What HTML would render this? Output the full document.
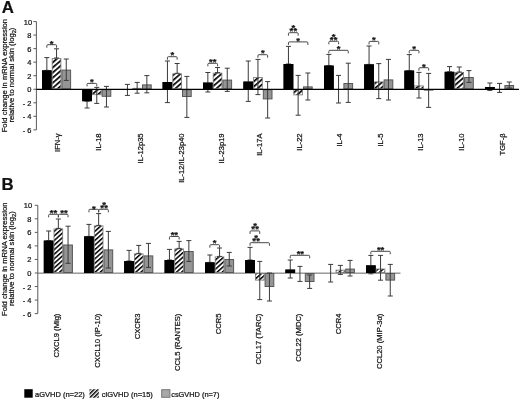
<!DOCTYPE html>
<html><head><meta charset="utf-8"><title>Figure</title>
<style>
html,body{margin:0;padding:0;background:#fff;}
svg{display:block;font-family:"Liberation Sans",sans-serif;fill:#111;}
text{stroke:#111;stroke-width:0.22px;}
#fig{filter:blur(0.45px);}
</style></head><body>
<svg width="520" height="400" viewBox="0 0 520 400">
<rect x="0" y="0" width="520" height="400" fill="#fff"/>
<g id="fig">
<defs><pattern id="hatchA" patternUnits="userSpaceOnUse" width="3.85" height="8" patternTransform="rotate(49)"><rect x="0" y="0" width="3.85" height="8" fill="#fff"/><rect x="0" y="0" width="1.7" height="8" fill="#000"/></pattern><pattern id="hatchB" patternUnits="userSpaceOnUse" width="3.4" height="8" patternTransform="rotate(48)"><rect x="0" y="0" width="3.4" height="8" fill="#fff"/><rect x="0" y="0" width="1.5" height="8" fill="#000"/></pattern><pattern id="hatch2" patternUnits="userSpaceOnUse" width="2.83" height="8" x="1.57" patternTransform="rotate(45)"><rect x="0" y="0" width="2.83" height="8" fill="#fff"/><rect x="0" y="0" width="1.45" height="8" fill="#000"/></pattern></defs>
<text x="1.7" y="13.0" font-size="16.8" font-weight="bold">A</text>
<path d="M36.40 21.60V129.87" stroke="#5a5a5a" stroke-width="1" fill="none"/>
<path d="M33.40 129.87H36.40" stroke="#5a5a5a" stroke-width="1" fill="none"/>
<text x="31.50" y="132.87" font-size="7.5" text-anchor="end">- 6</text>
<path d="M33.40 116.33H36.40" stroke="#5a5a5a" stroke-width="1" fill="none"/>
<text x="31.50" y="119.33" font-size="7.5" text-anchor="end">- 4</text>
<path d="M33.40 102.79H36.40" stroke="#5a5a5a" stroke-width="1" fill="none"/>
<text x="31.50" y="105.79" font-size="7.5" text-anchor="end">- 2</text>
<path d="M33.40 89.25H36.40" stroke="#5a5a5a" stroke-width="1" fill="none"/>
<text x="31.50" y="92.25" font-size="7.5" text-anchor="end">0</text>
<path d="M33.40 75.71H36.40" stroke="#5a5a5a" stroke-width="1" fill="none"/>
<text x="31.50" y="78.71" font-size="7.5" text-anchor="end">2</text>
<path d="M33.40 62.17H36.40" stroke="#5a5a5a" stroke-width="1" fill="none"/>
<text x="31.50" y="65.17" font-size="7.5" text-anchor="end">4</text>
<path d="M33.40 48.63H36.40" stroke="#5a5a5a" stroke-width="1" fill="none"/>
<text x="31.50" y="51.63" font-size="7.5" text-anchor="end">6</text>
<path d="M33.40 35.09H36.40" stroke="#5a5a5a" stroke-width="1" fill="none"/>
<text x="31.50" y="38.09" font-size="7.5" text-anchor="end">8</text>
<path d="M33.40 21.55H36.40" stroke="#5a5a5a" stroke-width="1" fill="none"/>
<text x="32.20" y="24.55" font-size="7.5" text-anchor="end">10</text>
<text transform="translate(6.60 75.60) rotate(-90)" text-anchor="middle" font-size="7.65">Fold change in mRNA expression</text>
<text transform="translate(14.20 75.00) rotate(-90)" text-anchor="middle" font-size="7.65">relative to normal skin (log<tspan font-size="5.6" dy="1.3">2</tspan><tspan dy="-1.3">)</tspan></text>
<rect x="42.00" y="70.40" width="9.70" height="18.85" fill="#000"/>
<path d="M46.85 57.60V70.40M44.35 57.60h5.0M44.35 70.40h5.0" stroke="#3a3a3a" stroke-width="1.0" fill="none"/>
<rect x="42.00" y="70.40" width="9.70" height="18.85" fill="#000"/>
<rect x="52.20" y="58.50" width="8.70" height="30.25" fill="url(#hatchA)" stroke="#777" stroke-width="0.8"/>
<path d="M56.55 48.80V58.00M54.05 48.80h5.0M54.05 58.00h5.0" stroke="#3a3a3a" stroke-width="1.0" fill="none"/>
<rect x="61.90" y="70.10" width="8.70" height="18.65" fill="#959595" stroke="#585858" stroke-width="1"/>
<path d="M66.25 59.00V80.40M63.75 59.00h5.0M63.75 80.40h5.0" stroke="#3a3a3a" stroke-width="1.0" fill="none"/>
<rect x="82.20" y="89.25" width="9.70" height="11.95" fill="#000"/>
<path d="M87.05 101.20V108.00M84.55 101.20h5.0M84.55 108.00h5.0" stroke="#3a3a3a" stroke-width="1.0" fill="none"/>
<rect x="82.20" y="89.25" width="9.70" height="11.95" fill="#000"/>
<rect x="92.40" y="89.75" width="8.70" height="4.95" fill="url(#hatchA)" stroke="#777" stroke-width="0.8"/>
<path d="M96.75 87.40V103.40M94.25 87.40h5.0M94.25 103.40h5.0" stroke="#3a3a3a" stroke-width="1.0" fill="none"/>
<rect x="102.10" y="89.75" width="8.70" height="6.55" fill="#959595" stroke="#585858" stroke-width="1"/>
<path d="M106.45 86.40V107.00M103.95 86.40h5.0M103.95 107.00h5.0" stroke="#3a3a3a" stroke-width="1.0" fill="none"/>
<path d="M127.45 84.40V95.40M124.95 84.40h5.0M124.95 95.40h5.0" stroke="#3a3a3a" stroke-width="1.0" fill="none"/>
<rect x="132.80" y="88.30" width="8.70" height="0.45" fill="url(#hatchA)" stroke="#777" stroke-width="0.8"/>
<path d="M137.15 82.40V93.20M134.65 82.40h5.0M134.65 93.20h5.0" stroke="#3a3a3a" stroke-width="1.0" fill="none"/>
<rect x="142.50" y="84.90" width="8.70" height="3.85" fill="#959595" stroke="#585858" stroke-width="1"/>
<path d="M146.85 75.60V92.80M144.35 75.60h5.0M144.35 92.80h5.0" stroke="#3a3a3a" stroke-width="1.0" fill="none"/>
<rect x="162.60" y="82.00" width="9.70" height="7.25" fill="#000"/>
<path d="M167.45 61.00V102.60M164.95 61.00h5.0M164.95 102.60h5.0" stroke="#3a3a3a" stroke-width="1.0" fill="none"/>
<rect x="162.60" y="82.00" width="9.70" height="7.25" fill="#000"/>
<rect x="172.80" y="73.80" width="8.70" height="14.95" fill="url(#hatchA)" stroke="#777" stroke-width="0.8"/>
<path d="M177.15 63.50V73.30M174.65 63.50h5.0M174.65 73.30h5.0" stroke="#3a3a3a" stroke-width="1.0" fill="none"/>
<rect x="182.50" y="89.75" width="8.70" height="6.75" fill="#959595" stroke="#585858" stroke-width="1"/>
<path d="M186.85 76.40V117.40M184.35 76.40h5.0M184.35 117.40h5.0" stroke="#3a3a3a" stroke-width="1.0" fill="none"/>
<rect x="203.00" y="82.60" width="9.70" height="6.65" fill="#000"/>
<path d="M207.85 72.50V92.00M205.35 72.50h5.0M205.35 92.00h5.0" stroke="#3a3a3a" stroke-width="1.0" fill="none"/>
<rect x="203.00" y="82.60" width="9.70" height="6.65" fill="#000"/>
<rect x="213.20" y="73.10" width="8.70" height="15.65" fill="url(#hatchA)" stroke="#777" stroke-width="0.8"/>
<path d="M217.55 67.50V72.60M215.05 67.50h5.0M215.05 72.60h5.0" stroke="#3a3a3a" stroke-width="1.0" fill="none"/>
<rect x="222.90" y="80.10" width="8.70" height="8.65" fill="#959595" stroke="#585858" stroke-width="1"/>
<path d="M227.25 68.20V91.40M224.75 68.20h5.0M224.75 91.40h5.0" stroke="#3a3a3a" stroke-width="1.0" fill="none"/>
<rect x="243.40" y="81.60" width="9.70" height="7.65" fill="#000"/>
<path d="M248.25 61.00V101.40M245.75 61.00h5.0M245.75 101.40h5.0" stroke="#3a3a3a" stroke-width="1.0" fill="none"/>
<rect x="243.40" y="81.60" width="9.70" height="7.65" fill="#000"/>
<rect x="253.60" y="77.50" width="8.70" height="11.25" fill="url(#hatchA)" stroke="#777" stroke-width="0.8"/>
<path d="M257.95 59.40V94.60M255.45 59.40h5.0M255.45 94.60h5.0" stroke="#3a3a3a" stroke-width="1.0" fill="none"/>
<rect x="263.30" y="89.75" width="8.70" height="9.15" fill="#959595" stroke="#585858" stroke-width="1"/>
<path d="M267.65 81.60V118.00M265.15 81.60h5.0M265.15 118.00h5.0" stroke="#3a3a3a" stroke-width="1.0" fill="none"/>
<rect x="283.60" y="64.00" width="9.70" height="25.25" fill="#000"/>
<path d="M288.45 46.40V64.00M285.95 46.40h5.0M285.95 64.00h5.0" stroke="#3a3a3a" stroke-width="1.0" fill="none"/>
<rect x="283.60" y="64.00" width="9.70" height="25.25" fill="#000"/>
<rect x="293.80" y="89.75" width="8.70" height="5.15" fill="url(#hatchA)" stroke="#777" stroke-width="0.8"/>
<path d="M298.15 75.40V115.20M295.65 75.40h5.0M295.65 115.20h5.0" stroke="#3a3a3a" stroke-width="1.0" fill="none"/>
<rect x="303.50" y="86.90" width="8.70" height="1.85" fill="#959595" stroke="#585858" stroke-width="1"/>
<path d="M307.85 73.00V100.00M305.35 73.00h5.0M305.35 100.00h5.0" stroke="#3a3a3a" stroke-width="1.0" fill="none"/>
<rect x="324.00" y="65.60" width="9.70" height="23.65" fill="#000"/>
<path d="M328.85 54.40V65.60M326.35 54.40h5.0M326.35 65.60h5.0" stroke="#3a3a3a" stroke-width="1.0" fill="none"/>
<rect x="324.00" y="65.60" width="9.70" height="23.65" fill="#000"/>
<path d="M338.55 75.40V103.00M336.05 75.40h5.0M336.05 103.00h5.0" stroke="#3a3a3a" stroke-width="1.0" fill="none"/>
<rect x="343.90" y="83.50" width="8.70" height="5.25" fill="#959595" stroke="#585858" stroke-width="1"/>
<path d="M348.25 63.20V102.40M345.75 63.20h5.0M345.75 102.40h5.0" stroke="#3a3a3a" stroke-width="1.0" fill="none"/>
<rect x="364.20" y="64.40" width="9.70" height="24.85" fill="#000"/>
<path d="M369.05 46.00V64.40M366.55 46.00h5.0M366.55 64.40h5.0" stroke="#3a3a3a" stroke-width="1.0" fill="none"/>
<rect x="364.20" y="64.40" width="9.70" height="24.85" fill="#000"/>
<rect x="374.40" y="81.90" width="8.70" height="6.85" fill="url(#hatchA)" stroke="#777" stroke-width="0.8"/>
<path d="M378.75 63.60V98.60M376.25 63.60h5.0M376.25 98.60h5.0" stroke="#3a3a3a" stroke-width="1.0" fill="none"/>
<rect x="384.10" y="79.90" width="8.70" height="8.85" fill="#959595" stroke="#585858" stroke-width="1"/>
<path d="M388.45 59.40V100.00M385.95 59.40h5.0M385.95 100.00h5.0" stroke="#3a3a3a" stroke-width="1.0" fill="none"/>
<rect x="404.40" y="70.60" width="9.70" height="18.65" fill="#000"/>
<path d="M409.25 54.60V70.60M406.75 54.60h5.0M406.75 70.60h5.0" stroke="#3a3a3a" stroke-width="1.0" fill="none"/>
<rect x="404.40" y="70.60" width="9.70" height="18.65" fill="#000"/>
<rect x="414.60" y="85.90" width="8.70" height="2.85" fill="url(#hatchA)" stroke="#777" stroke-width="0.8"/>
<path d="M418.95 72.40V98.00M416.45 72.40h5.0M416.45 98.00h5.0" stroke="#3a3a3a" stroke-width="1.0" fill="none"/>
<rect x="424.30" y="89.75" width="8.70" height="0.35" fill="#959595" stroke="#585858" stroke-width="1"/>
<path d="M428.65 73.40V107.40M426.15 73.40h5.0M426.15 107.40h5.0" stroke="#3a3a3a" stroke-width="1.0" fill="none"/>
<rect x="444.70" y="71.80" width="9.70" height="17.45" fill="#000"/>
<path d="M449.55 66.60V71.80M447.05 66.60h5.0M447.05 71.80h5.0" stroke="#3a3a3a" stroke-width="1.0" fill="none"/>
<rect x="444.70" y="71.80" width="9.70" height="17.45" fill="#000"/>
<rect x="454.90" y="72.50" width="8.70" height="16.25" fill="url(#hatchA)" stroke="#777" stroke-width="0.8"/>
<path d="M459.25 67.00V72.00M456.75 67.00h5.0M456.75 72.00h5.0" stroke="#3a3a3a" stroke-width="1.0" fill="none"/>
<rect x="464.60" y="77.50" width="8.70" height="11.25" fill="#959595" stroke="#585858" stroke-width="1"/>
<path d="M468.95 70.60V82.40M466.45 70.60h5.0M466.45 82.40h5.0" stroke="#3a3a3a" stroke-width="1.0" fill="none"/>
<rect x="485.00" y="87.00" width="9.70" height="2.25" fill="#000"/>
<path d="M489.85 83.00V90.40M487.35 83.00h5.0M487.35 90.40h5.0" stroke="#3a3a3a" stroke-width="1.0" fill="none"/>
<rect x="485.00" y="87.00" width="9.70" height="2.25" fill="#000"/>
<path d="M499.55 83.40V92.40M497.05 83.40h5.0M497.05 92.40h5.0" stroke="#3a3a3a" stroke-width="1.0" fill="none"/>
<rect x="504.90" y="85.50" width="8.70" height="3.25" fill="#959595" stroke="#585858" stroke-width="1"/>
<path d="M509.25 82.00V88.00M506.75 82.00h5.0M506.75 88.00h5.0" stroke="#3a3a3a" stroke-width="1.0" fill="none"/>
<path d="M36.4 89.35H519" stroke="#000" stroke-width="1.25" fill="none"/>
<path d="M46.85 47.70V45.70Q46.85 44.70 47.85 44.70H55.55Q56.55 44.70 56.55 45.70V47.70" stroke="#333" stroke-width="0.9" fill="none"/>
<text x="51.70" y="46.50" font-size="9.5" font-weight="bold" text-anchor="middle" stroke="#111" stroke-width="0.45">*</text>
<path d="M87.05 86.40V84.40Q87.05 83.40 88.05 83.40H95.75Q96.75 83.40 96.75 84.40V86.40" stroke="#333" stroke-width="0.9" fill="none"/>
<text x="91.90" y="85.00" font-size="9.5" font-weight="bold" text-anchor="middle" stroke="#111" stroke-width="0.45">*</text>
<path d="M167.45 59.70V57.70Q167.45 56.70 168.45 56.70H176.15Q177.15 56.70 177.15 57.70V59.70" stroke="#333" stroke-width="0.9" fill="none"/>
<text x="172.30" y="58.30" font-size="9.5" font-weight="bold" text-anchor="middle" stroke="#111" stroke-width="0.45">*</text>
<path d="M207.85 66.30V64.30Q207.85 63.30 208.85 63.30H216.55Q217.55 63.30 217.55 64.30V66.30" stroke="#333" stroke-width="0.9" fill="none"/>
<text x="210.90" y="64.90" font-size="9.5" font-weight="bold" text-anchor="middle" stroke="#111" stroke-width="0.45">*</text>
<text x="214.50" y="64.90" font-size="9.5" font-weight="bold" text-anchor="middle" stroke="#111" stroke-width="0.45">*</text>
<path d="M257.95 57.70V55.70Q257.95 54.70 258.95 54.70H266.65Q267.65 54.70 267.65 55.70V57.70" stroke="#333" stroke-width="0.9" fill="none"/>
<text x="262.80" y="56.30" font-size="9.5" font-weight="bold" text-anchor="middle" stroke="#111" stroke-width="0.45">*</text>
<path d="M288.45 44.90V42.90Q288.45 41.90 289.45 41.90H306.85Q307.85 41.90 307.85 42.90V44.90" stroke="#333" stroke-width="0.9" fill="none"/>
<text x="298.15" y="43.90" font-size="9.5" font-weight="bold" text-anchor="middle" stroke="#111" stroke-width="0.45">*</text>
<path d="M288.45 35.70V33.70Q288.45 32.70 289.45 32.70H297.15Q298.15 32.70 298.15 33.70V35.70" stroke="#333" stroke-width="0.9" fill="none"/>
<text x="291.30" y="34.10" font-size="9.5" font-weight="bold" text-anchor="middle" stroke="#111" stroke-width="0.45">*</text>
<text x="295.30" y="34.10" font-size="9.5" font-weight="bold" text-anchor="middle" stroke="#111" stroke-width="0.45">*</text>
<text x="293.30" y="31.00" font-size="9.5" font-weight="bold" text-anchor="middle" stroke="#111" stroke-width="0.45">*</text>
<path d="M328.85 53.30V51.30Q328.85 50.30 329.85 50.30H347.25Q348.25 50.30 348.25 51.30V53.30" stroke="#333" stroke-width="0.9" fill="none"/>
<text x="338.55" y="52.10" font-size="9.5" font-weight="bold" text-anchor="middle" stroke="#111" stroke-width="0.45">*</text>
<path d="M328.85 44.30V42.30Q328.85 41.30 329.85 41.30H337.55Q338.55 41.30 338.55 42.30V44.30" stroke="#333" stroke-width="0.9" fill="none"/>
<text x="331.70" y="43.10" font-size="9.5" font-weight="bold" text-anchor="middle" stroke="#111" stroke-width="0.45">*</text>
<text x="335.70" y="43.10" font-size="9.5" font-weight="bold" text-anchor="middle" stroke="#111" stroke-width="0.45">*</text>
<text x="333.70" y="40.00" font-size="9.5" font-weight="bold" text-anchor="middle" stroke="#111" stroke-width="0.45">*</text>
<path d="M369.05 44.40V42.40Q369.05 41.40 370.05 41.40H377.75Q378.75 41.40 378.75 42.40V44.40" stroke="#333" stroke-width="0.9" fill="none"/>
<text x="373.90" y="43.40" font-size="9.5" font-weight="bold" text-anchor="middle" stroke="#111" stroke-width="0.45">*</text>
<path d="M409.25 53.30V51.30Q409.25 50.30 410.25 50.30H417.95Q418.95 50.30 418.95 51.30V53.30" stroke="#333" stroke-width="0.9" fill="none"/>
<text x="414.10" y="52.30" font-size="9.5" font-weight="bold" text-anchor="middle" stroke="#111" stroke-width="0.45">*</text>
<path d="M418.95 70.70V68.70Q418.95 67.70 419.95 67.70H427.65Q428.65 67.70 428.65 68.70V70.70" stroke="#333" stroke-width="0.9" fill="none"/>
<text x="423.80" y="69.70" font-size="9.5" font-weight="bold" text-anchor="middle" stroke="#111" stroke-width="0.45">*</text>
<text transform="translate(59.65 133.40) rotate(-90)" text-anchor="end" font-size="7.6">IFN-γ</text>
<text transform="translate(101.15 133.40) rotate(-90)" text-anchor="end" font-size="7.6">IL-18</text>
<text transform="translate(142.55 133.40) rotate(-90)" text-anchor="end" font-size="7.6">IL-12p35</text>
<text transform="translate(183.55 133.40) rotate(-90)" text-anchor="end" font-size="7.6">IL-12/IL-23p40</text>
<text transform="translate(223.65 133.40) rotate(-90)" text-anchor="end" font-size="7.6">IL-23p19</text>
<text transform="translate(262.35 133.40) rotate(-90)" text-anchor="end" font-size="7.6">IL-17A</text>
<text transform="translate(302.05 133.40) rotate(-90)" text-anchor="end" font-size="7.6">IL-22</text>
<text transform="translate(342.45 133.40) rotate(-90)" text-anchor="end" font-size="7.6">IL-4</text>
<text transform="translate(383.15 133.40) rotate(-90)" text-anchor="end" font-size="7.6">IL-5</text>
<text transform="translate(423.35 133.40) rotate(-90)" text-anchor="end" font-size="7.6">IL-13</text>
<text transform="translate(463.65 133.40) rotate(-90)" text-anchor="end" font-size="7.6">IL-10</text>
<text transform="translate(504.75 133.40) rotate(-90)" text-anchor="end" font-size="7.6">TGF-β</text>
<text x="1.5" y="189.5" font-size="16.8" font-weight="bold">B</text>
<path d="M37.80 205.30V313.62" stroke="#5a5a5a" stroke-width="1" fill="none"/>
<path d="M34.80 313.62H37.80" stroke="#5a5a5a" stroke-width="1" fill="none"/>
<text x="31.50" y="316.62" font-size="7.5" text-anchor="end">- 6</text>
<path d="M34.80 300.08H37.80" stroke="#5a5a5a" stroke-width="1" fill="none"/>
<text x="31.50" y="303.08" font-size="7.5" text-anchor="end">- 4</text>
<path d="M34.80 286.54H37.80" stroke="#5a5a5a" stroke-width="1" fill="none"/>
<text x="31.50" y="289.54" font-size="7.5" text-anchor="end">- 2</text>
<path d="M34.80 273.00H37.80" stroke="#5a5a5a" stroke-width="1" fill="none"/>
<text x="31.50" y="276.00" font-size="7.5" text-anchor="end">0</text>
<path d="M34.80 259.46H37.80" stroke="#5a5a5a" stroke-width="1" fill="none"/>
<text x="31.50" y="262.46" font-size="7.5" text-anchor="end">2</text>
<path d="M34.80 245.92H37.80" stroke="#5a5a5a" stroke-width="1" fill="none"/>
<text x="31.50" y="248.92" font-size="7.5" text-anchor="end">4</text>
<path d="M34.80 232.38H37.80" stroke="#5a5a5a" stroke-width="1" fill="none"/>
<text x="31.50" y="235.38" font-size="7.5" text-anchor="end">6</text>
<path d="M34.80 218.84H37.80" stroke="#5a5a5a" stroke-width="1" fill="none"/>
<text x="31.50" y="221.84" font-size="7.5" text-anchor="end">8</text>
<path d="M34.80 205.30H37.80" stroke="#5a5a5a" stroke-width="1" fill="none"/>
<text x="32.20" y="208.30" font-size="7.5" text-anchor="end">10</text>
<text transform="translate(6.60 259.30) rotate(-90)" text-anchor="middle" font-size="7.65">Fold change in mRNA expression</text>
<text transform="translate(14.20 258.70) rotate(-90)" text-anchor="middle" font-size="7.65">relative to normal skin (log<tspan font-size="5.6" dy="1.3">2</tspan><tspan dy="-1.3">)</tspan></text>
<path d="M37.8 273.15H400.5" stroke="#666" stroke-width="1" fill="none"/>
<rect x="43.80" y="240.60" width="9.70" height="32.40" fill="#000"/>
<path d="M48.65 231.00V240.60M46.15 231.00h5.0M46.15 240.60h5.0" stroke="#3a3a3a" stroke-width="1.0" fill="none"/>
<rect x="43.80" y="240.60" width="9.70" height="32.40" fill="#000"/>
<rect x="54.00" y="228.90" width="8.70" height="43.60" fill="url(#hatchB)" stroke="#777" stroke-width="0.8"/>
<path d="M58.35 219.00V228.40M55.85 219.00h5.0M55.85 228.40h5.0" stroke="#3a3a3a" stroke-width="1.0" fill="none"/>
<rect x="63.70" y="245.00" width="8.70" height="27.50" fill="#959595" stroke="#585858" stroke-width="1"/>
<path d="M68.05 226.20V263.30M65.55 226.20h5.0M65.55 263.30h5.0" stroke="#3a3a3a" stroke-width="1.0" fill="none"/>
<rect x="84.10" y="236.40" width="9.70" height="36.60" fill="#000"/>
<path d="M88.95 224.40V236.40M86.45 224.40h5.0M86.45 236.40h5.0" stroke="#3a3a3a" stroke-width="1.0" fill="none"/>
<rect x="84.10" y="236.40" width="9.70" height="36.60" fill="#000"/>
<rect x="94.30" y="225.90" width="8.70" height="46.60" fill="url(#hatchB)" stroke="#777" stroke-width="0.8"/>
<path d="M98.65 213.60V225.40M96.15 213.60h5.0M96.15 225.40h5.0" stroke="#3a3a3a" stroke-width="1.0" fill="none"/>
<rect x="104.00" y="249.90" width="8.70" height="22.60" fill="#959595" stroke="#585858" stroke-width="1"/>
<path d="M108.35 231.40V268.00M105.85 231.40h5.0M105.85 268.00h5.0" stroke="#3a3a3a" stroke-width="1.0" fill="none"/>
<rect x="124.20" y="261.00" width="9.70" height="12.00" fill="#000"/>
<path d="M129.05 250.40V261.00M126.55 250.40h5.0M126.55 261.00h5.0" stroke="#3a3a3a" stroke-width="1.0" fill="none"/>
<rect x="124.20" y="261.00" width="9.70" height="12.00" fill="#000"/>
<rect x="134.40" y="253.90" width="8.70" height="18.60" fill="url(#hatchB)" stroke="#777" stroke-width="0.8"/>
<path d="M138.75 245.40V253.40M136.25 245.40h5.0M136.25 253.40h5.0" stroke="#3a3a3a" stroke-width="1.0" fill="none"/>
<rect x="144.10" y="255.90" width="8.70" height="16.60" fill="#959595" stroke="#585858" stroke-width="1"/>
<path d="M148.45 243.40V267.40M145.95 243.40h5.0M145.95 267.40h5.0" stroke="#3a3a3a" stroke-width="1.0" fill="none"/>
<rect x="164.60" y="260.00" width="9.70" height="13.00" fill="#000"/>
<path d="M169.45 249.40V260.00M166.95 249.40h5.0M166.95 260.00h5.0" stroke="#3a3a3a" stroke-width="1.0" fill="none"/>
<rect x="164.60" y="260.00" width="9.70" height="13.00" fill="#000"/>
<rect x="174.80" y="248.90" width="8.70" height="23.60" fill="url(#hatchB)" stroke="#777" stroke-width="0.8"/>
<path d="M179.15 241.40V248.40M176.65 241.40h5.0M176.65 248.40h5.0" stroke="#3a3a3a" stroke-width="1.0" fill="none"/>
<rect x="184.50" y="251.50" width="8.70" height="21.00" fill="#959595" stroke="#585858" stroke-width="1"/>
<path d="M188.85 240.60V261.40M186.35 240.60h5.0M186.35 261.40h5.0" stroke="#3a3a3a" stroke-width="1.0" fill="none"/>
<rect x="205.00" y="262.40" width="9.70" height="10.60" fill="#000"/>
<path d="M209.85 255.00V262.40M207.35 255.00h5.0M207.35 262.40h5.0" stroke="#3a3a3a" stroke-width="1.0" fill="none"/>
<rect x="205.00" y="262.40" width="9.70" height="10.60" fill="#000"/>
<rect x="215.20" y="256.90" width="8.70" height="15.60" fill="url(#hatchB)" stroke="#777" stroke-width="0.8"/>
<path d="M219.55 248.00V256.40M217.05 248.00h5.0M217.05 256.40h5.0" stroke="#3a3a3a" stroke-width="1.0" fill="none"/>
<rect x="224.90" y="259.50" width="8.70" height="13.00" fill="#959595" stroke="#585858" stroke-width="1"/>
<path d="M229.25 252.40V266.00M226.75 252.40h5.0M226.75 266.00h5.0" stroke="#3a3a3a" stroke-width="1.0" fill="none"/>
<rect x="245.20" y="260.00" width="9.70" height="13.00" fill="#000"/>
<path d="M250.05 247.40V260.00M247.55 247.40h5.0M247.55 260.00h5.0" stroke="#3a3a3a" stroke-width="1.0" fill="none"/>
<rect x="245.20" y="260.00" width="9.70" height="13.00" fill="#000"/>
<rect x="255.40" y="273.50" width="8.70" height="6.60" fill="url(#hatchB)" stroke="#777" stroke-width="0.8"/>
<path d="M259.75 261.40V299.60M257.25 261.40h5.0M257.25 299.60h5.0" stroke="#3a3a3a" stroke-width="1.0" fill="none"/>
<rect x="265.10" y="273.50" width="8.70" height="13.00" fill="#959595" stroke="#585858" stroke-width="1"/>
<path d="M269.45 273.00V301.00M266.95 273.00h5.0M266.95 301.00h5.0" stroke="#3a3a3a" stroke-width="1.0" fill="none"/>
<rect x="285.40" y="269.60" width="9.70" height="3.40" fill="#000"/>
<path d="M290.25 260.00V278.00M287.75 260.00h5.0M287.75 278.00h5.0" stroke="#3a3a3a" stroke-width="1.0" fill="none"/>
<rect x="285.40" y="269.60" width="9.70" height="3.40" fill="#000"/>
<path d="M299.95 266.40V281.40M297.45 266.40h5.0M297.45 281.40h5.0" stroke="#3a3a3a" stroke-width="1.0" fill="none"/>
<rect x="305.30" y="273.50" width="8.70" height="8.00" fill="#959595" stroke="#585858" stroke-width="1"/>
<path d="M309.65 275.00V288.40M307.15 275.00h5.0M307.15 288.40h5.0" stroke="#3a3a3a" stroke-width="1.0" fill="none"/>
<path d="M330.65 264.40V282.00M328.15 264.40h5.0M328.15 282.00h5.0" stroke="#3a3a3a" stroke-width="1.0" fill="none"/>
<rect x="336.00" y="270.10" width="8.70" height="2.40" fill="url(#hatchB)" stroke="#777" stroke-width="0.8"/>
<path d="M340.35 265.40V274.40M337.85 265.40h5.0M337.85 274.40h5.0" stroke="#3a3a3a" stroke-width="1.0" fill="none"/>
<rect x="345.70" y="269.10" width="8.70" height="3.40" fill="#959595" stroke="#585858" stroke-width="1"/>
<path d="M350.05 260.40V276.00M347.55 260.40h5.0M347.55 276.00h5.0" stroke="#3a3a3a" stroke-width="1.0" fill="none"/>
<rect x="366.00" y="265.40" width="9.70" height="7.60" fill="#000"/>
<path d="M370.85 255.40V273.80M368.35 255.40h5.0M368.35 273.80h5.0" stroke="#3a3a3a" stroke-width="1.0" fill="none"/>
<rect x="366.00" y="265.40" width="9.70" height="7.60" fill="#000"/>
<rect x="376.20" y="269.00" width="8.70" height="3.50" fill="url(#hatchB)" stroke="#777" stroke-width="0.8"/>
<path d="M380.55 255.40V280.20M378.05 255.40h5.0M378.05 280.20h5.0" stroke="#3a3a3a" stroke-width="1.0" fill="none"/>
<rect x="385.90" y="273.50" width="8.70" height="6.60" fill="#959595" stroke="#585858" stroke-width="1"/>
<path d="M390.25 264.40V296.00M387.75 264.40h5.0M387.75 296.00h5.0" stroke="#3a3a3a" stroke-width="1.0" fill="none"/>
<path d="M48.65 217.30V215.30Q48.65 214.30 49.65 214.30H57.35Q58.35 214.30 58.35 215.30V217.30" stroke="#333" stroke-width="0.9" fill="none"/>
<text x="51.70" y="215.60" font-size="9.5" font-weight="bold" text-anchor="middle" stroke="#111" stroke-width="0.45">*</text>
<text x="55.30" y="215.60" font-size="9.5" font-weight="bold" text-anchor="middle" stroke="#111" stroke-width="0.45">*</text>
<path d="M58.35 217.30V215.30Q58.35 214.30 59.35 214.30H67.05Q68.05 214.30 68.05 215.30V217.30" stroke="#333" stroke-width="0.9" fill="none"/>
<text x="62.20" y="215.60" font-size="9.5" font-weight="bold" text-anchor="middle" stroke="#111" stroke-width="0.45">*</text>
<text x="65.80" y="215.60" font-size="9.5" font-weight="bold" text-anchor="middle" stroke="#111" stroke-width="0.45">*</text>
<path d="M88.95 212.30V210.30Q88.95 209.30 89.95 209.30H97.65Q98.65 209.30 98.65 210.30V212.30" stroke="#333" stroke-width="0.9" fill="none"/>
<text x="93.80" y="211.50" font-size="9.5" font-weight="bold" text-anchor="middle" stroke="#111" stroke-width="0.45">*</text>
<path d="M98.65 212.30V210.30Q98.65 209.30 99.65 209.30H107.35Q108.35 209.30 108.35 210.30V212.30" stroke="#333" stroke-width="0.9" fill="none"/>
<text x="102.10" y="211.10" font-size="9.5" font-weight="bold" text-anchor="middle" stroke="#111" stroke-width="0.45">*</text>
<text x="106.10" y="211.10" font-size="9.5" font-weight="bold" text-anchor="middle" stroke="#111" stroke-width="0.45">*</text>
<text x="104.10" y="208.00" font-size="9.5" font-weight="bold" text-anchor="middle" stroke="#111" stroke-width="0.45">*</text>
<path d="M169.45 239.50V237.50Q169.45 236.50 170.45 236.50H178.15Q179.15 236.50 179.15 237.50V239.50" stroke="#333" stroke-width="0.9" fill="none"/>
<text x="172.50" y="237.50" font-size="9.5" font-weight="bold" text-anchor="middle" stroke="#111" stroke-width="0.45">*</text>
<text x="176.10" y="237.50" font-size="9.5" font-weight="bold" text-anchor="middle" stroke="#111" stroke-width="0.45">*</text>
<path d="M209.85 247.70V245.70Q209.85 244.70 210.85 244.70H218.55Q219.55 244.70 219.55 245.70V247.70" stroke="#333" stroke-width="0.9" fill="none"/>
<text x="214.70" y="245.50" font-size="9.5" font-weight="bold" text-anchor="middle" stroke="#111" stroke-width="0.45">*</text>
<path d="M250.05 245.70V243.70Q250.05 242.70 251.05 242.70H268.45Q269.45 242.70 269.45 243.70V245.70" stroke="#333" stroke-width="0.9" fill="none"/>
<text x="254.10" y="244.10" font-size="9.5" font-weight="bold" text-anchor="middle" stroke="#111" stroke-width="0.45">*</text>
<text x="258.10" y="244.10" font-size="9.5" font-weight="bold" text-anchor="middle" stroke="#111" stroke-width="0.45">*</text>
<text x="256.10" y="241.00" font-size="9.5" font-weight="bold" text-anchor="middle" stroke="#111" stroke-width="0.45">*</text>
<path d="M250.05 233.90V231.90Q250.05 230.90 251.05 230.90H258.75Q259.75 230.90 259.75 231.90V233.90" stroke="#333" stroke-width="0.9" fill="none"/>
<text x="253.20" y="231.80" font-size="9.5" font-weight="bold" text-anchor="middle" stroke="#111" stroke-width="0.45">*</text>
<text x="257.20" y="231.80" font-size="9.5" font-weight="bold" text-anchor="middle" stroke="#111" stroke-width="0.45">*</text>
<text x="255.20" y="228.70" font-size="9.5" font-weight="bold" text-anchor="middle" stroke="#111" stroke-width="0.45">*</text>
<path d="M290.25 258.30V256.30Q290.25 255.30 291.25 255.30H308.65Q309.65 255.30 309.65 256.30V258.30" stroke="#333" stroke-width="0.9" fill="none"/>
<text x="298.55" y="256.70" font-size="9.5" font-weight="bold" text-anchor="middle" stroke="#111" stroke-width="0.45">*</text>
<text x="302.15" y="256.70" font-size="9.5" font-weight="bold" text-anchor="middle" stroke="#111" stroke-width="0.45">*</text>
<path d="M370.85 254.30V252.30Q370.85 251.30 371.85 251.30H389.25Q390.25 251.30 390.25 252.30V254.30" stroke="#333" stroke-width="0.9" fill="none"/>
<text x="378.75" y="253.10" font-size="9.5" font-weight="bold" text-anchor="middle" stroke="#111" stroke-width="0.45">*</text>
<text x="382.35" y="253.10" font-size="9.5" font-weight="bold" text-anchor="middle" stroke="#111" stroke-width="0.45">*</text>
<text transform="translate(59.35 313.60) rotate(-90)" text-anchor="end" font-size="7.6">CXCL9 (Mig)</text>
<text transform="translate(99.65 313.60) rotate(-90)" text-anchor="end" font-size="7.6">CXCL10 (IP-10)</text>
<text transform="translate(139.75 313.60) rotate(-90)" text-anchor="end" font-size="7.6">CXCR3</text>
<text transform="translate(180.15 313.60) rotate(-90)" text-anchor="end" font-size="7.6">CCL5 (RANTES)</text>
<text transform="translate(220.55 313.60) rotate(-90)" text-anchor="end" font-size="7.6">CCR5</text>
<text transform="translate(260.75 313.60) rotate(-90)" text-anchor="end" font-size="7.6">CCL17 (TARC)</text>
<text transform="translate(300.95 313.60) rotate(-90)" text-anchor="end" font-size="7.6">CCL22 (MDC)</text>
<text transform="translate(341.35 313.60) rotate(-90)" text-anchor="end" font-size="7.6">CCR4</text>
<text transform="translate(381.55 313.60) rotate(-90)" text-anchor="end" font-size="7.6">CCL20 (MIP-3α)</text>
<rect x="24.3" y="389.2" width="8.4" height="8.5" fill="#000"/>
<text x="35.0" y="397.0" font-size="7.5">aGVHD (n=22)</text>
<rect x="89.5" y="389.2" width="9.3" height="8.6" fill="url(#hatch2)"/>
<text x="101.8" y="397.0" font-size="7.5">clGVHD (n=15)</text>
<rect x="161.7" y="389.7" width="8.2" height="7.6" fill="#a8a8a8" stroke="#777" stroke-width="1"/>
<text x="171.2" y="397.0" font-size="7.4">csGVHD (n=7)</text>
</g>
</svg>
</body></html>
